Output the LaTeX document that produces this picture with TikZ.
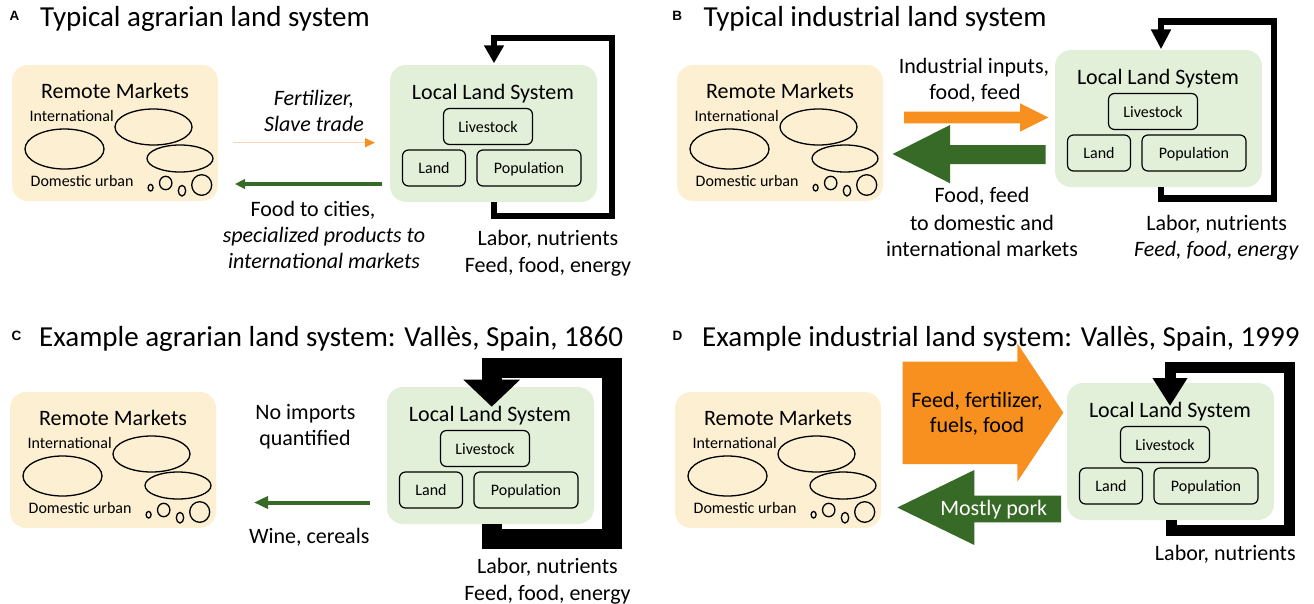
\documentclass[tikz,border=0pt]{standalone}
\usepackage{fontspec}
\setmainfont{Carlito}
\newfontfamily\lblfont{Liberation Sans}
\usetikzlibrary{arrows.meta}
\definecolor{rmfill}{HTML}{FDF0D2}
\definecolor{lsfill}{HTML}{E2F0D9}
\definecolor{orng}{HTML}{F7901E}
\definecolor{grn}{HTML}{376A26}
\definecolor{peach}{HTML}{FBD5B5}
\tikzset{
  big/.style={font=\fontsize{22}{26}\selectfont, inner sep=0pt, anchor=base},
  bigit/.style={big, font=\fontsize{22}{26}\selectfont\itshape},
  small/.style={font=\fontsize{16}{19}\selectfont, inner sep=0pt, anchor=base west},
  ttl/.style={font=\fontsize{29}{34}\selectfont, inner sep=0pt, anchor=base west},
  lbl/.style={font=\lblfont\fontsize{13.5}{16}\selectfont\bfseries, inner sep=0pt, anchor=base west},
  rmbox/.style={fill=rmfill, rounded corners=16pt, minimum width=206pt, minimum height=136pt, inner sep=0pt},
  lsbox/.style={fill=lsfill, rounded corners=16pt, minimum width=207pt, minimum height=137pt, inner sep=0pt},
  sub/.style={draw=black, line width=1.2pt, rounded corners=6pt, inner sep=0pt, minimum height=36pt,
    text height=11pt, text depth=0pt, font=\fontsize{16}{19}\selectfont},
  mk/.style={line width=1.3pt},
  remote/.pic={
    \node[rmbox] (-box) at (103,68) {};
    \node[big] (-title) at (103,33.5) {Remote Markets};
    \node[small] (-intl) at (17.5,56) {International};
    \node[small] (-dom) at (18.5,121) {Domestic urban};
    \draw[mk] (141.5,62) ellipse [x radius=38.5, y radius=18];
    \draw[mk] (52.5,84) ellipse [x radius=39.5, y radius=20];
    \draw[mk] (168,93.5) ellipse [x radius=33, y radius=13.5];
    \draw[mk] (138.6,122.7) ellipse [x radius=2.5, y radius=3.3];
    \draw[mk] (153.7,118) ellipse [x radius=6.2, y radius=6.7];
    \draw[mk] (170,125.7) ellipse [x radius=3.7, y radius=5.3];
    \draw[mk] (189.7,120) ellipse [x radius=10, y radius=10.3];
  },
  localsys/.pic={
    \node[lsbox] (-box) at (103.5,68.5) {};
    \node[big] (-title) at (103,34.2) {Local Land System};
    \node[sub, minimum width=89pt] (-live) at (98,61.5) {Livestock};
    \node[sub, minimum width=63pt] (-land) at (44,103) {Land};
    \node[sub, minimum width=104pt] (-pop) at (139,103) {Population};
  },
}
\begin{document}
\begin{tikzpicture}[x=1pt,y=-1pt]
\useasboundingbox (0,0) rectangle (1314,603);

% ---------------- Panel A ----------------
\node[lbl] (labA) at (9.5,20.5) {A};
\node[ttl] (ttlA) at (40,26.7) {Typical agrarian land system};
\pic (rmA) at (12,65) {remote};
\pic (lsA) at (390,65) {localsys};
\coordinate (aoS) at (233,142.7);
\coordinate (aoE) at (375,142.7);
\draw[peach, line width=1.2pt, -{Triangle[width=9pt,length=10pt,color=orng]}] (aoS) -- (aoE);
\coordinate (agS) at (382,184);
\coordinate (agE) at (235,184);
\draw[grn, line width=3.5pt, -{Triangle[width=9.5pt,length=10pt]}] (agS) -- (agE);
\node[bigit] (tA1) at (314,105) {Fertilizer,};
\node[bigit] (tA2) at (314,131.7) {Slave trade};
\node[big] (tA3) at (313,216.7) {Food to cities,};
\node[bigit] (tA4) at (324,242.7) {specialized products to};
\node[bigit] (tA5) at (324,268.3) {international markets};
\coordinate (A1) at (494,216);
\coordinate (A2) at (612,38);
\coordinate (A3) at (494,63.3);
\draw[line width=6.5pt, -{Triangle[width=19pt,length=18pt]}] (lsA-box.south -| A1) -- (A1) -| (A2) -| (A3);
\node[big] (tA6) at (548,245.7) {Labor, nutrients};
\node[big] (tA7) at (548,272.7) {Feed, food, energy};

% ---------------- Panel B ----------------
\node[lbl] (labB) at (672.2,20.5) {B};
\node[ttl] (ttlB) at (703.3,26.7) {Typical industrial land system};
\pic (rmB) at (677,65) {remote};
\pic (lsB) at (1055,50) {localsys};
\fill[orng] (904,111.7) -- (1020,111.7) -- (1020,103.3) -- (1048.3,117.5) -- (1020,131.7) -- (1020,123.3) -- (904,123.3) -- cycle;
\fill[grn] (892.7,154) -- (950,125) -- (950,145) -- (1045.7,145) -- (1045.7,164) -- (950,164) -- (950,183.3) -- cycle;
\node[big] (tB1) at (974,73.3) {Industrial inputs,};
\node[big] (tB2) at (975,99.3) {food, feed};
\node[big] (tB3) at (982,202.7) {Food, feed};
\node[big] (tB4) at (982,230) {to domestic and};
\node[big] (tB5) at (982,256) {international markets};
\coordinate (B1) at (1161,198.3);
\coordinate (B2) at (1274,21.7);
\coordinate (B3) at (1161,49.3);
\draw[line width=6.5pt, -{Triangle[width=19pt,length=20pt]}] (lsB-box.south -| B1) -- (B1) -| (B2) -| (B3);
\node[big] (tB6) at (1216.7,230) {Labor, nutrients};
\node[bigit] (tB7) at (1216.3,256.7) {Feed, food, energy};

% ---------------- Panel C ----------------
\node[lbl] (labC) at (11.5,340) {C};
\node[ttl] (ttlC) at (39,346) {Example agrarian land system: Vallès, Spain, 1860};
\pic (rmC) at (10,392) {remote};
\pic (lsC) at (387,387) {localsys};
\node[big] (tC1) at (305.5,419.3) {No imports};
\node[big] (tC2) at (305,445) {quantified};
\coordinate (cgS) at (370,502.5);
\coordinate (cgE) at (254,502.5);
\draw[grn, line width=4pt, -{Triangle[width=12pt,length=14pt]}] (cgS) -- (cgE);
\node[big] (tC3) at (309.2,543.5) {Wine, cereals};
\coordinate (C1) at (491.7,538.8);
\coordinate (C2) at (611.7,368.3);
\coordinate (C3) at (491.7,406.7);
\draw[line width=20pt, -{Triangle[width=55pt,length=27pt]}] (lsC-box.south -| C1) -- (C1) -| (C2) -| (C3);
\node[big] (tC4) at (547.5,573.3) {Labor, nutrients};
\node[big] (tC5) at (547.5,600) {Feed, food, energy};

% ---------------- Panel D ----------------
\node[lbl] (labD) at (672.5,340) {D};
\node[ttl] (ttlD) at (702,346) {Example industrial land system: Vallès, Spain, 1999};
\pic (rmD) at (675,392) {remote};
\pic (lsD) at (1067,383) {localsys};
\fill[orng] (902.7,361.7) -- (1017.3,361.7) -- (1017.3,343.3) -- (1063.3,412.7) -- (1017.3,481.7) -- (1017.3,464) -- (902.7,464) -- cycle;
\fill[grn] (897.3,507.5) -- (974.3,470) -- (974.3,495.7) -- (1061,495.7) -- (1061,522.3) -- (974.3,522.3) -- (974.3,545) -- cycle;
\node[big] (tD1) at (977,407.3) {Feed, fertilizer,};
\node[big] (tD2) at (977,432.7) {fuels, food};
\node[big, text=white] (tD3) at (993.8,515) {Mostly pork};
\coordinate (D1) at (1171,530.8);
\coordinate (D2) at (1289.7,367.8);
\coordinate (D3) at (1170,406);
\draw[line width=11pt, -{Triangle[width=33pt,length=28pt]}] (lsD-box.south -| D1) -- (D1) -| (D2) -| (D3);
\node[big] (tD4) at (1225.3,560) {Labor, nutrients};
\end{tikzpicture}
\end{document}
